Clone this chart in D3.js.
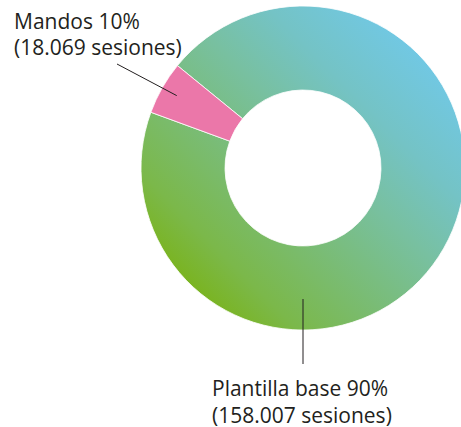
<!DOCTYPE html>
<html>
<head>
<meta charset="utf-8">
<script src="https://cdn.jsdelivr.net/npm/d3@7"></script>
<style>
  body { margin: 0; background: #fff; }
  svg text { font-family: "Open Sans", sans-serif; font-size: 21px; fill: #231f20; }
</style>
</head>
<body>
<svg id="chart" width="461" height="427"></svg>
<script>
// data
var categories = ["Plantilla base", "Mandos"];
var percentLabels = ["90%", "10%"];
var sessionLabels = ["158.007", "18.069"];
// share of the ring as it is drawn in the reference (not the label %)
var drawnShare = [94.7, 5.3];

var width = 461, height = 427,
    cx = 303, cy = 168,
    outerR = 162, innerR = 78;

var svg = d3.select("#chart");

// gradient coords are in the ring group's space (origin at ring centre)
var defs = svg.append("defs");
var grad = defs.append("linearGradient")
    .attr("id", "ringGrad")
    .attr("gradientUnits", "userSpaceOnUse")
    .attr("x1", 190 - cx).attr("y1", 300 - cy)
    .attr("x2", 450 - cx).attr("y2", 40 - cy);
[[0, "#7ab317"], [0.15, "#7bb84a"], [0.54, "#78c0a0"], [0.71, "#74c3c5"], [1, "#70caf0"]]
  .forEach(function(s) {
    grad.append("stop").attr("offset", s[0]).attr("stop-color", s[1]);
  });

var colors = ["url(#ringGrad)", "#eb77a9"];

var rad = Math.PI / 180;
var pie = d3.pie()
    .sort(null)
    .startAngle(-50.8 * rad)
    .endAngle(309.2 * rad);

var arc = d3.arc()
    .innerRadius(innerR)
    .outerRadius(outerR);

var g = svg.append("g")
    .attr("transform", "translate(" + cx + "," + cy + ")");

var arcs = pie(drawnShare);

g.selectAll("path.slice")
  .data(arcs)
  .enter().append("path")
    .attr("class", "slice")
    .attr("d", arc)
    .attr("fill", function(d, i) { return colors[i]; })
    .attr("stroke", "#fff")
    .attr("stroke-width", 0.8);

// leader lines
var mandosMid = arc.centroid(arcs[1]);
svg.append("line")
    .attr("x1", 117).attr("y1", 64)
    .attr("x2", cx + mandosMid[0] - 22).attr("y2", cy + mandosMid[1] - 13)
    .attr("stroke", "#231f20").attr("stroke-width", 1);

svg.append("line")
    .attr("x1", cx).attr("y1", 299)
    .attr("x2", cx).attr("y2", 364)
    .attr("stroke", "#231f20").attr("stroke-width", 1);

// labels
function label(x, y, i) {
  var t = svg.append("text").attr("x", x).attr("y", y);
  t.append("tspan").attr("x", x).text(categories[i] + " " + percentLabels[i]);
  t.append("tspan").attr("x", x).attr("dy", 26.5).text("(" + sessionLabels[i] + " sesiones)");
}
label(14, 28.5, 1);
label(212, 396, 0);
</script>
</body>
</html>
